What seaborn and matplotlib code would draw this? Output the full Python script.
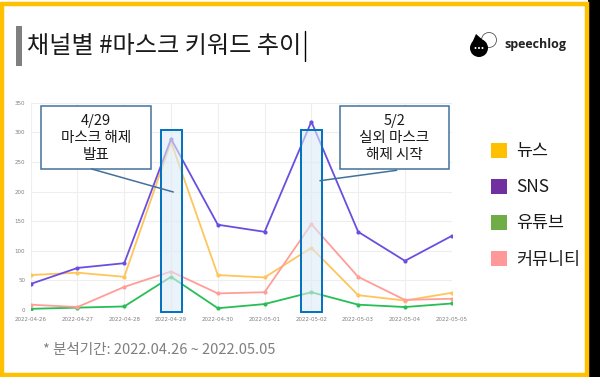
import matplotlib
matplotlib.use("Agg")
import matplotlib.pyplot as plt
from matplotlib.patches import Rectangle, Ellipse, Patch, Polygon
from matplotlib.lines import Line2D
import seaborn as sns
import pandas as pd

# ---------------- data ----------------
dates = ["2022-04-26", "2022-04-27", "2022-04-28", "2022-04-29", "2022-04-30",
         "2022-05-01", "2022-05-02", "2022-05-03", "2022-05-04", "2022-05-05"]
news = [59, 63, 56, 284, 59, 55, 105, 25, 16, 29]
sns_vals = [44, 71, 79, 289, 144, 132, 318, 132, 83, 125]
youtube = [2, 4, 6, 56, 3, 10, 30, 9, 5, 11]
community = [9, 5, 39, 65, 28, 30, 145, 56, 17, 19]
series_names = ["뉴스", "SNS", "유튜브", "커뮤니티"]
y_ticks = [0, 50, 100, 150, 200, 250, 300, 350]
title = "채널별 #마스크 키워드 추이"
footer = "* 분석기간: 2022.04.26 ~ 2022.05.05"
ann1_date, ann1_text = "2022-04-29", "4/29\n마스크 해제\n발표"
ann2_date, ann2_text = "2022-05-02", "5/2\n실외 마스크\n해제 시작"

line_colors = {"뉴스": "#FFC55A", "SNS": "#6B4EE0", "유튜브": "#27BE55", "커뮤니티": "#FF9E98"}
legend_colors = {"뉴스": "#FFC000", "SNS": "#7030A0", "유튜브": "#70AD47", "커뮤니티": "#FF9999"}

df = pd.DataFrame({"date": dates * 4,
                   "value": news + sns_vals + youtube + community,
                   "channel": sum([[n] * len(dates) for n in series_names], [])})
sns.set_theme(style="white")
plt.rcParams['font.family'] = ['Noto Sans CJK KR', 'DejaVu Sans']

W, H = 600, 377
fig = plt.figure(figsize=(6, 3.77), dpi=100)
fig.patch.set_facecolor("white")


def fx(x):
    return x / W


def fy(y):
    return 1 - y / H


# background frame
fig.add_artist(Rectangle((fx(588), 0), fx(12), 1, transform=fig.transFigure,
                         facecolor="black", edgecolor="none", zorder=0))
fig.add_artist(Rectangle((fx(2), fy(374.5)), fx(585), (372.5 - 2) / H, transform=fig.transFigure,
                         facecolor="white", edgecolor="#FFC000", linewidth=3.2, zorder=0))

ax_left, ax_right, ax_top, ax_bottom = 30.7, 451.7, 102.7, 310.0
ax = fig.add_axes([fx(ax_left), fy(ax_bottom), (ax_right - ax_left) / W, (ax_bottom - ax_top) / H])
ax.set_facecolor("none")

sns.lineplot(data=df, x="date", y="value", hue="channel", hue_order=series_names,
             palette=line_colors, marker="o", markersize=3, markeredgewidth=0,
             linewidth=1.3, legend=False, ax=ax, zorder=3)

ax.set_xlim(0, len(dates) - 1)
ax.set_ylim(0, 350)
ax.set_yticks(y_ticks)
ax.set_xlabel("")
ax.set_ylabel("")
ax.grid(True, color="#EEEEEE", linewidth=0.8, zorder=0)
ax.set_axisbelow(True)
for s in ax.spines.values():
    s.set_visible(False)
ax.tick_params(axis="both", length=0, labelsize=4, labelcolor="#808080")
ax.tick_params(axis="y", pad=4)
ax.tick_params(axis="x", pad=5)
for lbl in ax.get_xticklabels() + ax.get_yticklabels():
    lbl.set_family("DejaVu Sans")

# highlight rectangles
for d in (ann1_date, ann2_date):
    i = dates.index(d)
    ax.add_patch(Rectangle((i - 0.225, -3.8), 0.45, 307.8, facecolor="#DDEBF7", alpha=0.6,
                           edgecolor="none", zorder=4, clip_on=False))
    ax.add_patch(Rectangle((i - 0.225, -3.8), 0.45, 307.8, facecolor="none",
                           edgecolor="#0070C0", linewidth=1.4, zorder=5, clip_on=False))

# annotation boxes and connector lines (figure pixel coords)
for (x0, x1, txt, start, end) in [(40.7, 150.7, ann1_text, (91.7, 169), (173.3, 192)),
                                  (340, 449, ann2_text, (396.7, 170.3), (320, 180.7))]:
    fig.add_artist(Rectangle((fx(x0), fy(169)), (x1 - x0) / W, (169 - 105.7) / H,
                             transform=fig.transFigure, facecolor="white",
                             edgecolor="#41719C", linewidth=1.1, zorder=6))
    fig.text(fx((x0 + x1) / 2), fy(138), txt, ha="center", va="center", fontsize=10.5,
             color="#1a1a1a", linespacing=1.3, zorder=7)
    fig.add_artist(Line2D([fx(start[0]), fx(end[0])], [fy(start[1]), fy(end[1])],
                          transform=fig.transFigure, color="#41719C", linewidth=1.1, zorder=6))

# legend
handles = [Patch(facecolor=legend_colors[n], edgecolor="none") for n in series_names]
leg = fig.legend(handles, series_names, loc="upper left", bbox_to_anchor=(fx(491), fy(142)),
                 frameon=False, fontsize=12.5, handlelength=0.95, handleheight=0.95,
                 handletextpad=0.5, labelspacing=1.05, borderaxespad=0, borderpad=0)
for t in leg.get_texts():
    t.set_color("#1a1a1a")

# title
fig.add_artist(Rectangle((fx(16), fy(66)), fx(6), 40 / H, transform=fig.transFigure,
                         facecolor="#7F7F7F", edgecolor="none"))
fig.text(fx(27), fy(46), title, ha="left", va="center", fontsize=17.4, color="#1a1a1a")
fig.add_artist(Line2D([fx(305), fx(305)], [fy(31), fy(61)], transform=fig.transFigure,
                      color="black", linewidth=1.0))

# logo
def ell(cx, cy, r, **kw):
    return Ellipse((fx(cx), fy(cy)), 2 * r / W, 2 * r / H, transform=fig.transFigure, **kw)


fig.add_artist(ell(489, 40, 7.5, facecolor="white", edgecolor="#555555", linewidth=0.6))
fig.add_artist(Polygon([(fx(472), fy(43)), (fx(476), fy(34)), (fx(484), fy(41))],
                       closed=True, transform=fig.transFigure, facecolor="black", edgecolor="none"))
fig.add_artist(ell(479, 48, 9, facecolor="black", edgecolor="none"))
for dx in (-3.5, 0, 3.5):
    fig.add_artist(ell(479 + dx, 48, 1.0, facecolor="white", edgecolor="none"))
fig.text(fx(504), fy(44.5), "speechlog", ha="left", va="center", fontsize=9,
         fontweight="bold", color="#222222", family="Open Sans")

# footer
fig.text(fx(43), fy(350), footer, ha="left", va="center", fontsize=10.5, color="#7F7F7F")

fig.savefig("out.png", dpi=100)
